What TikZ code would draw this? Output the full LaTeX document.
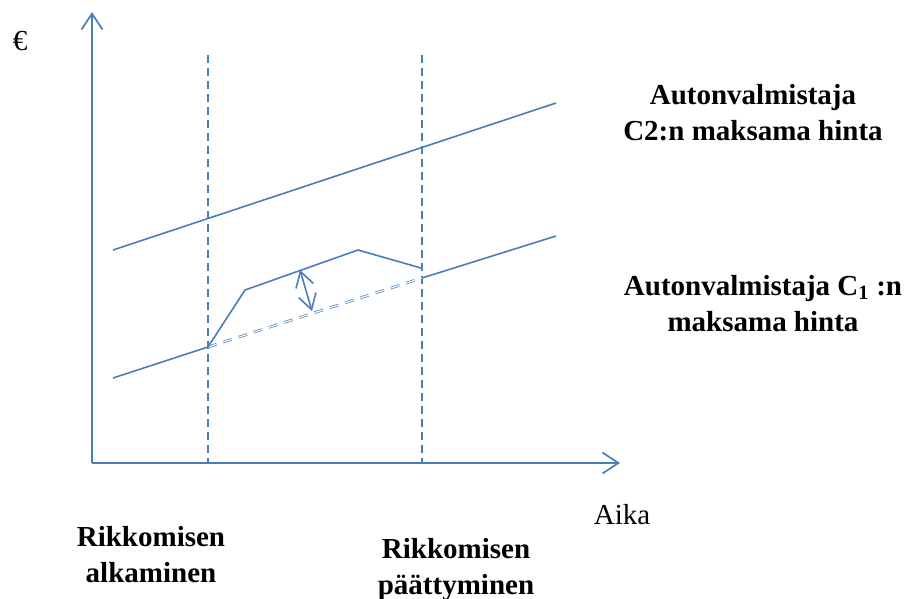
\documentclass[tikz,border=0pt]{standalone}
\usepackage{fontspec}
\setmainfont{Liberation Serif}
\usepackage{xcolor}
\usetikzlibrary{arrows.meta}
\definecolor{linecol}{RGB}{74,126,187}
\tikzset{
  axisline/.style={draw=linecol, line width=1.7pt, -{Straight Barb[length=16pt,width=21pt,line width=1.7pt]}},
  guideline/.style={draw=linecol, line width=1.3pt, dash pattern=on 8pt off 5pt},
  priceline/.style={draw=linecol, line width=1.6pt},
  baseline/.style={draw=linecol, line width=0.7pt, double=white, double distance=1.2pt, dash pattern=on 9pt off 7pt},
  gaparrow/.style={draw=linecol, line width=1.6pt, {Straight Barb[length=15pt,width=18pt,line width=1.6pt]}-{Straight Barb[length=15pt,width=18pt,line width=1.6pt]}},
  labeltext/.style={font=\fontsize{29}{36}\selectfont\bfseries, align=center, inner sep=0pt, anchor=base}
}
\begin{document}
\begin{tikzpicture}[x=1pt, y=-1pt]
  \useasboundingbox (0,0) rectangle (904,598);

  %% Axes
  \coordinate (O) at (92,463);
  \coordinate (ytop) at (92,12);
  \coordinate (xend) at (620,463);
  \draw[axisline] (O) -- (ytop);
  \draw[axisline] (O) -- (xend);

  %% Start and end of the infringement
  \coordinate (s1top) at (208,55);
  \coordinate (s1bot) at (208,463);
  \coordinate (s2top) at (422,55);
  \coordinate (s2bot) at (422,463);
  \draw[guideline] (s1top) -- (s1bot);
  \draw[guideline] (s2top) -- (s2bot);

  %% Price of C2
  \coordinate (c2a) at (113,250);
  \coordinate (c2b) at (556,103);
  \draw[priceline] (c2a) -- (c2b);

  %% Price of C1
  \coordinate (c1a) at (113,378);
  \coordinate (c1s) at (208,347);
  \coordinate (c1e) at (422,278);
  \coordinate (c1b) at (556,236);
  \draw[priceline] (c1a) -- (c1s);
  \draw[baseline] (c1s) -- (c1e);
  \draw[priceline] (c1e) -- (c1b);

  %% Overcharge
  \coordinate (k1) at (245,290);
  \coordinate (k2) at (358,250);
  \coordinate (k3) at (421,268);
  \draw[priceline, line join=round] (c1s) -- (k1) -- (k2) -- (k3);
  \coordinate (gtop) at (300,270);
  \coordinate (gbot) at (312,311);
  \draw[gaparrow] (gtop) -- (gbot);

  %% Texts
  \node[labeltext, font=\fontsize{29}{36}\selectfont] (euro) at (20,50) {€};
  \node[labeltext, font=\fontsize{29}{36}\selectfont] (aika) at (622,524) {Aika};
  \node[labeltext] (hintaC2) at (753,140) {Autonvalmistaja\\C2:n maksama hinta};
  \node[labeltext] (hintaC1) at (763,331) {Autonvalmistaja C$_{\mathbf{1}}$ :n\\maksama hinta};
  \node[labeltext] (alku) at (151,582) {Rikkomisen\\alkaminen};
  \node[labeltext] (loppu) at (456,594) {Rikkomisen\\päättyminen};
\end{tikzpicture}
\end{document}
